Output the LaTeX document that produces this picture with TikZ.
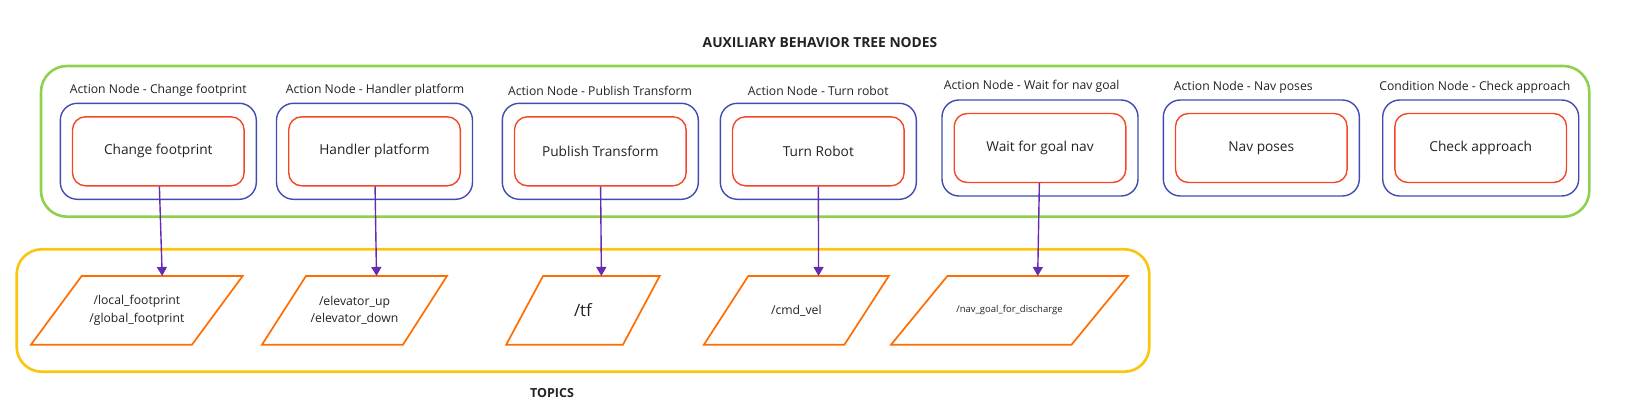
\documentclass[tikz,border=0pt]{standalone}
\usepackage{fontspec}
\setmainfont{Open Sans}
\usetikzlibrary{arrows.meta}

\definecolor{framegreen}{HTML}{8FD14F}
\definecolor{frameyellow}{HTML}{FAC710}
\definecolor{nodeblue}{HTML}{414BB2}
\definecolor{nodered}{HTML}{F24726}
\definecolor{topicorange}{HTML}{FF6D00}
\definecolor{flowviolet}{HTML}{652CB3}
\definecolor{textgray}{HTML}{222222}

\begin{document}
\begin{tikzpicture}[x=1pt,y=-1pt,>={Triangle[length=9pt,width=10pt]},
  outer node/.style={rectangle,rounded corners=17pt,draw=nodeblue,line width=1.4pt,minimum width=196pt,minimum height=96pt},
  inner node/.style={rectangle,rounded corners=13pt,draw=nodered,line width=1.4pt,minimum width=171.6pt,minimum height=69pt,font=\fontsize{13.7}{16}\selectfont,text=textgray},
  node title/.style={font=\fontsize{12.2}{14}\selectfont,text=textgray},
  topic node/.style={rectangle,inner sep=0pt,outer sep=0pt,minimum height=68.7pt,align=center,font=\fontsize{12.2}{17.3}\selectfont,text=textgray},
  topic line/.style={draw=topicorange,line width=1.7pt},
  frame title/.style={font=\bfseries\fontsize{13.8}{16}\selectfont,text=textgray},
  flow/.style={->,color=flowviolet,line width=1.4pt}]

	      \useasboundingbox (0,0) rectangle (1638,415);

	      % frames
	      \draw[framegreen,line width=2.6pt,rounded corners=26pt] (41,66) rectangle (1589.3,216.7);
	      \draw[frameyellow,line width=2.7pt,rounded corners=25pt] (16.7,249.3) rectangle (1149.3,371.7);
	      \node[frame title] at (820,42.7) (nodes title) {AUXILIARY BEHAVIOR TREE NODES};
	      \node[frame title,font=\bfseries\fontsize{12.5}{15}\selectfont] at (552,393.3) (topics title) {TOPICS};

	      % behavior tree nodes
	      \node[node title] at (158.3,90.7) (l1) {Action Node - Change footprint};
	      \node[outer node] at (158.3,151.3) (o1) {};
	      \node[inner node] at (158.3,151.3) (a1) {Change footprint};

	      \node[node title] at (375,90.7) (l2) {Action Node - Handler platform};
	      \node[outer node] at (374.5,151.3) (o2) {};
	      \node[inner node] at (374.5,151.3) (a2) {Handler platform};

	      \node[node title] at (600,90.7) (l3) {Action Node - Publish Transform};
	      \node[outer node] at (600.3,151.3) (o3) {};
	      \node[inner node] at (600.3,151.3) (a3) {Publish Transform};

	      \node[node title] at (818.3,90.7) (l4) {Action Node - Turn robot};
	      \node[outer node] at (818.3,151.3) (o4) {};
	      \node[inner node] at (818.3,151.3) (a4) {Turn Robot};

	      \node[node title] at (1031.7,86) (l5) {Action Node - Wait for nav goal};
	      \node[outer node] at (1040,148) (o5) {};
	      \node[inner node] at (1040,148) (a5) {Wait for goal nav};

	      \node[node title] at (1243.3,87.3) (l6) {Action Node - Nav poses};
	      \node[outer node] at (1261.3,148) (o6) {};
	      \node[inner node] at (1261.3,148) (a6) {Nav poses};

	      \node[node title] at (1474.8,87.3) (l7) {Condition Node - Check approach};
	      \node[outer node] at (1480.7,148) (o7) {};
	      \node[inner node] at (1480.7,148) (a7) {Check approach};

	      % topics (slanted outline drawn round each text)
	      \node[topic node,minimum width=161pt] at (136.85,310.3) (t1) {/local\_footprint\\/global\_footprint};
	      \node[topic node,minimum width=141pt] at (354.5,310.3) (t2) {/elevator\_up\\/elevator\_down};
	      \node[topic node,minimum width=116.7pt,font=\fontsize{17}{20}\selectfont] at (583,310.3) (t3) {/tf};
	      \node[topic node,minimum width=140.5pt] at (796.35,310.3) (t4) {/cmd\_vel};
	      \node[topic node,minimum width=180.5pt,font=\fontsize{9.5}{12}\selectfont] at (1009.5,310.3) (t5) {/nav\_goal\_for\_discharge};

	      \foreach \t/\s in {t1/25.35,t2/22,t3/18.4,t4/22.2,t5/28.2}
	        \draw[topic line] ([xshift=-\s pt]\t.south west) -- ([xshift=-\s pt]\t.south east)
	          -- ([xshift=\s pt]\t.north east) -- ([xshift=\s pt]\t.north west) -- cycle;

	      \path[flow]
	      (a1) edge ([xshift=25.35pt]t1.north)
	      (a2) edge ([xshift=22pt]t2.north)
	      (a3) edge ([xshift=18.4pt]t3.north)
	      (a4) edge ([xshift=22.2pt]t4.north)
	      (a5) edge ([xshift=28.2pt]t5.north)
	      ;

	    \end{tikzpicture}
\end{document}
